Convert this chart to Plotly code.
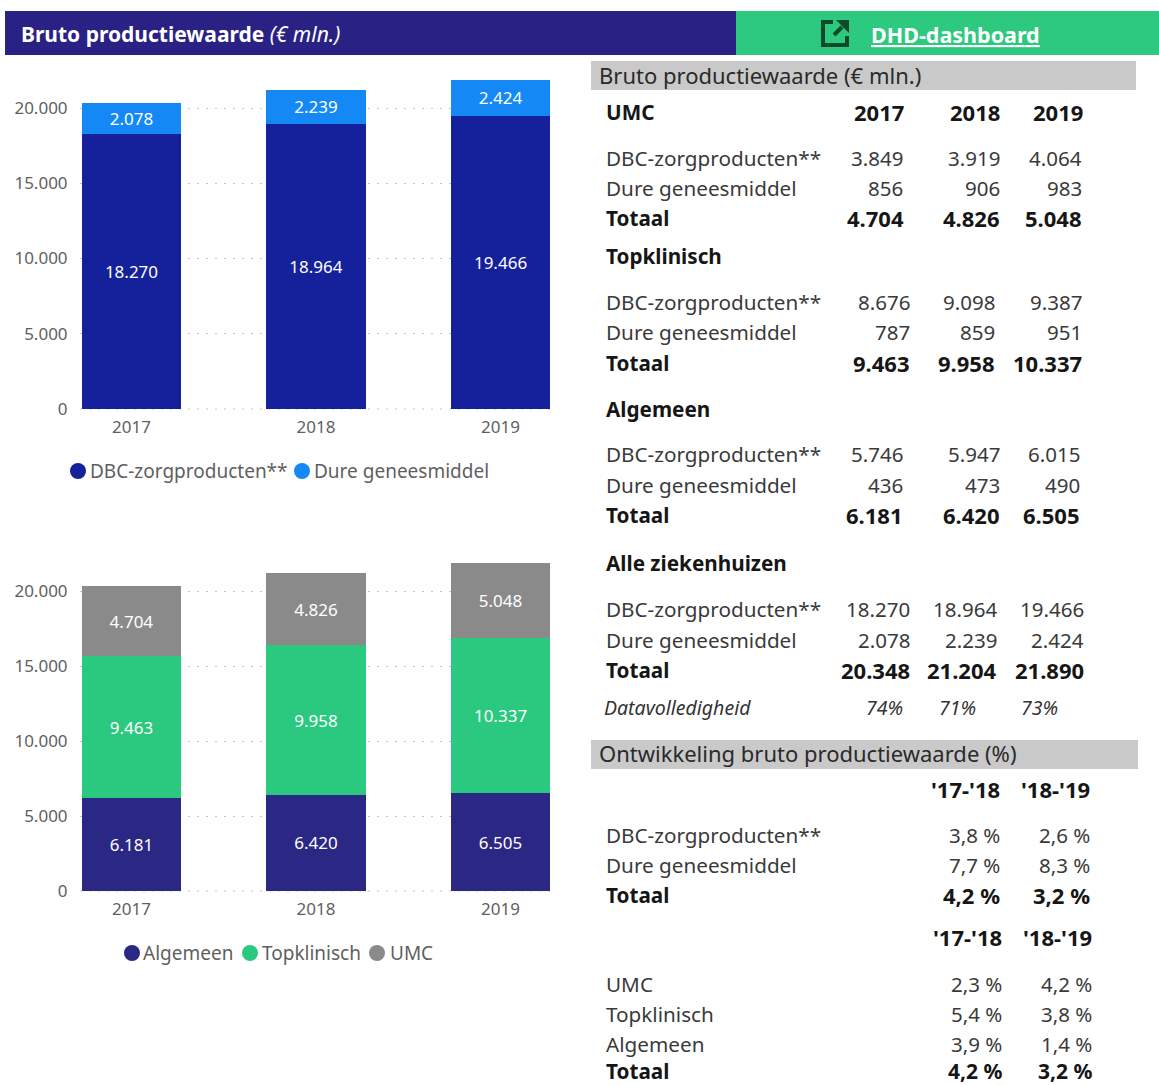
import plotly.graph_objects as go

W, H = 1159, 1085
FONT = "Noto Sans"

years = [2017, 2018, 2019]
dbc_all = [18270, 18964, 19466]
dure_all = [2078, 2239, 2424]
algemeen = [6181, 6420, 6505]
topklinisch = [9463, 9958, 10337]
umc = [4704, 4826, 5048]

dbc_label = "DBC-zorgproducten**"
dure_label = "Dure geneesmiddel"
total_label = "Totaal"

umc_dbc = ["3.849", "3.919", "4.064"]
umc_dure = ["856", "906", "983"]
umc_tot = ["4.704", "4.826", "5.048"]
top_dbc = ["8.676", "9.098", "9.387"]
top_dure = ["787", "859", "951"]
top_tot = ["9.463", "9.958", "10.337"]
alg_dbc = ["5.746", "5.947", "6.015"]
alg_dure = ["436", "473", "490"]
alg_tot = ["6.181", "6.420", "6.505"]
alle_dbc = ["18.270", "18.964", "19.466"]
alle_dure = ["2.078", "2.239", "2.424"]
alle_tot = ["20.348", "21.204", "21.890"]
completeness = ["74%", "71%", "73%"]

periods = ["'17-'18", "'18-'19"]
dev_dbc = ["3,8 %", "2,6 %"]
dev_dure = ["7,7 %", "8,3 %"]
dev_tot = ["4,2 %", "3,2 %"]
dev_umc = ["2,3 %", "4,2 %"]
dev_top = ["5,4 %", "3,8 %"]
dev_alg = ["3,9 %", "1,4 %"]

NAVY1, BLUE, NAVY2, GREEN, GREY = "#14219b", "#1489f5", "#2a2785", "#2ac97f", "#8a8a8a"
AXIS = "#5f5f5f"
INK = "#3a3a3a"
DARK = "#161616"
DOTS = "2px,7px"


def px(x):
    return x / W


def py(y):
    return 1 - y / H


fig = go.Figure()


def bars(values, name, color, xa, ya):
    fig.add_trace(go.Bar(
        x=years, y=values, name=name, marker=dict(color=color, line=dict(width=0)),
        width=0.537, xaxis=xa, yaxis=ya, showlegend=False,
        texttemplate="%{y:,d}", textposition="inside", insidetextanchor="middle",
        textangle=0, insidetextfont=dict(color="white", size=17, family=FONT),
        constraintext="none", hoverinfo="skip",
    ))


bars(dbc_all, "DBC-zorgproducten**", NAVY1, "x", "y")
bars(dure_all, "Dure geneesmiddel", BLUE, "x", "y")
bars(algemeen, "Algemeen", NAVY2, "x2", "y2")
bars(topklinisch, "Topklinisch", GREEN, "x2", "y2")
bars(umc, "UMC", GREY, "x2", "y2")
# empty trace that keeps the full-page text layer axes alive
fig.add_trace(go.Scatter(x=[None], y=[None], xaxis="x3", yaxis="y3", showlegend=False,
                         hoverinfo="skip"))

xr = [2017 - 0.279, 2017 + 2.279]
xcommon = dict(range=xr, tickvals=years, tickformat="d", showgrid=False, zeroline=False,
               showline=False, ticks="outside", ticklen=3, tickcolor="rgba(0,0,0,0)",
               tickfont=dict(size=17, color=AXIS, family=FONT), automargin=False,
               domain=[px(80), px(552)])
ycommon = dict(showgrid=True, griddash=DOTS, gridcolor="#c4c4c4", gridwidth=1, zeroline=False,
               showline=False, ticks="outside", ticklen=8, tickcolor="rgba(0,0,0,0)",
               automargin=False,
               tickformat=",d", dtick=5000, tickfont=dict(size=17, color=AXIS, family=FONT))

fig.update_layout(
    width=W, height=H, margin=dict(l=0, r=0, t=0, b=0, autoexpand=False), barmode="stack",
    separators=",.", autosize=False,
    paper_bgcolor="white", plot_bgcolor="rgba(0,0,0,0)", font=dict(family=FONT), showlegend=False,
    xaxis=dict(**xcommon, anchor="y"),
    yaxis=dict(**ycommon, anchor="x", domain=[py(409), py(70)], range=[0, (409 - 70) / 0.01505]),
    xaxis2=dict(**xcommon, anchor="y2"),
    yaxis2=dict(**ycommon, anchor="x2", domain=[py(891), py(553)], range=[0, (891 - 553) / 0.015]),
    xaxis3=dict(range=[0, W], domain=[0, 1], visible=False, anchor="y3", fixedrange=True, automargin=False),
    yaxis3=dict(range=[H, 0], domain=[0, 1], visible=False, anchor="x3", fixedrange=True, automargin=False),
)

anns, shapes = [], []


def text(x, y, s, size=20, color=INK, anchor="left"):
    anns.append(dict(xref="x3", yref="y3", x=x, y=y, text=s, showarrow=False,
                     xanchor=anchor, yanchor="middle", align=anchor, borderpad=0,
                     font=dict(size=size, color=color, family=FONT)))


def rect(x0, y0, x1, y1, color):
    shapes.append(dict(type="rect", xref="paper", yref="paper", x0=px(x0), x1=px(x1),
                       y0=py(y0), y1=py(y1), fillcolor=color, line=dict(width=0), layer="below"))


def dot(cx, cy, color, r=8):
    shapes.append(dict(type="circle", xref="paper", yref="paper", x0=px(cx - r), x1=px(cx + r),
                       y0=py(cy + r), y1=py(cy - r), fillcolor=color, line=dict(width=0)))


def pathstr(points, close=False):
    s = "M " + " L ".join(f"{px(a):.5f},{py(b):.5f}" for a, b in points)
    return s + (" Z" if close else "")


# Dotted baselines between the bars
for base in (409, 891):
    shapes.append(dict(type="line", xref="paper", yref="paper", x0=px(80), x1=px(552),
                       y0=py(base), y1=py(base), layer="below",
                       line=dict(color="#c4c4c4", width=1, dash=DOTS)))

# Banner
rect(5, 11, 736, 55, "#2a2185")
rect(736, 11, 1159, 55, "#2dc97f")
text(20, 34, "<b>Bruto productiewaarde</b> <i>(€ mln.)</i>", 21, "white")
text(870, 34, "<b><u>DHD-dashboard</u></b>", 21.5, "white")
shapes.append(dict(type="path", xref="paper", yref="paper",
                   path=pathstr([(833, 22), (823, 22), (823, 45), (847, 45), (847, 36)]),
                   line=dict(color="#0e4a2a", width=4)))
shapes.append(dict(type="path", xref="paper", yref="paper",
                   path=pathstr([(834, 35), (842, 27)]), line=dict(color="#0e4a2a", width=4)))
shapes.append(dict(type="path", xref="paper", yref="paper",
                   path=pathstr([(836, 20), (849, 20), (849, 33)], close=True),
                   fillcolor="#0e4a2a", line=dict(width=0)))

# Legends
dot(78, 471, NAVY1)
text(89, 471, dbc_label, 19, AXIS)
dot(302, 471, BLUE)
text(313, 471, dure_label, 19, AXIS)
dot(132, 953, NAVY2)
text(142, 953, "Algemeen", 19, AXIS)
dot(250, 953, GREEN)
text(261, 953, "Topklinisch", 19, AXIS)
dot(377, 953, GREY)
text(389, 953, "UMC", 19, AXIS)

# Section bars
rect(591, 61, 1136, 90, "#c9c9c9")
text(598, 75, "Bruto productiewaarde (€ mln.)", 22, "#2a2a2a")
rect(591, 740, 1138, 769, "#c9c9c9")
text(598, 753, "Ontwikkeling bruto productiewaarde (%)", 22, "#2a2a2a")


def row(y, label, values, rights, bold=False, value_size=None):
    wrap = (lambda s: f"<b>{s}</b>") if bold else (lambda s: s)
    color = DARK if bold else INK
    if label:
        text(605, y - 1, wrap(label), 20.7, color)
    for v, r in zip(values, rights):
        text(r, y - 1, wrap(str(v)), value_size or (22 if bold else 20.5), color, "right")


row(113, "UMC", years, [905, 1001, 1084], True)
row(159, dbc_label, umc_dbc, [904, 1001, 1083])
row(189, dure_label, umc_dure, [904, 1001, 1083])
row(219, total_label, umc_tot, [905, 1001, 1083], True)
row(257, "Topklinisch", [], [], True)
row(303, dbc_label, top_dbc, [911, 996, 1083])
row(333, dure_label, top_dure, [911, 996, 1083])
row(364, total_label, top_tot, [911, 996, 1083], True)
row(410, "Algemeen", [], [], True)
row(455, dbc_label, alg_dbc, [904, 1001, 1081])
row(486, dure_label, alg_dure, [904, 1001, 1081])
row(516, total_label, alg_tot, [904, 1001, 1081], True)
row(564, "Alle ziekenhuizen", [], [], True)
row(610, dbc_label, alle_dbc, [911, 998, 1085])
row(641, dure_label, alle_dure, [911, 998, 1085])
row(671, total_label, alle_tot, [911, 998, 1085], True)
text(603, 707, "<i>Datavolledigheid</i>", 19.5, "#333")
for v, r in zip(completeness, [904, 977, 1059]):
    text(r, 707, f"<i>{v}</i>", 19.5, "#333", "right")

row(790, "", periods, [1001, 1091], True)
row(836, dbc_label, dev_dbc, [1001, 1091])
row(866, dure_label, dev_dure, [1001, 1091])
row(896, total_label, dev_tot, [1001, 1091], True)
row(938, "", periods, [1003, 1093], True)
row(985, "UMC", dev_umc, [1003, 1093])
row(1015, "Topklinisch", dev_top, [1003, 1093])
row(1045, "Algemeen", dev_alg, [1003, 1093])
row(1072, total_label, dev_tot, [1003, 1093], True, 21)

fig.update_layout(annotations=anns, shapes=shapes)
fig.write_html("out.html", config=dict(displayModeBar=False),
               post_script="document.body.style.margin='0';document.body.style.overflow='hidden';")
